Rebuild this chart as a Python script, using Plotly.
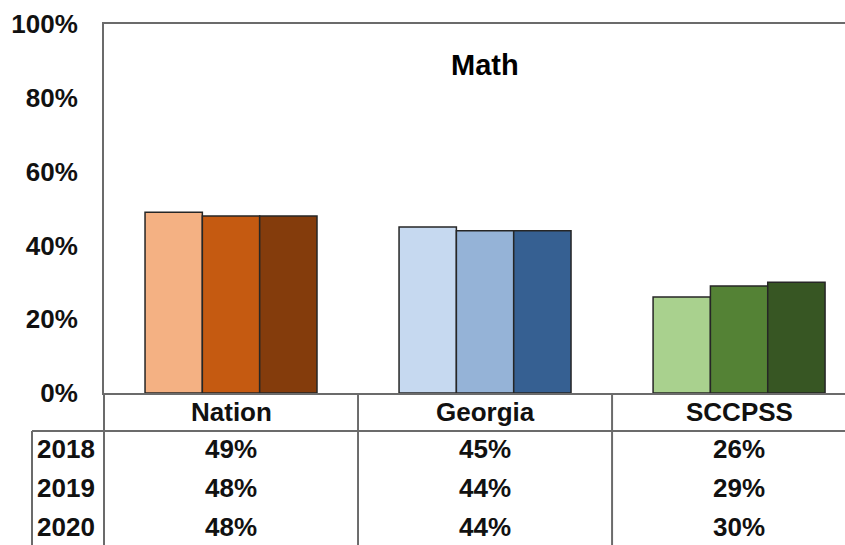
import plotly.graph_objects as go

categories = ["Nation", "Georgia", "SCCPSS"]
years = ["2018", "2019", "2020"]
values_2018 = [49, 45, 26]
values_2019 = [48, 44, 29]
values_2020 = [48, 44, 30]
series = [values_2018, values_2019, values_2020]
colors_2018 = ["#F4B183", "#C6D9F0", "#A9D18E"]
colors_2019 = ["#C55A11", "#95B3D7", "#548235"]
colors_2020 = ["#843C0C", "#366092", "#375623"]
colors = [colors_2018, colors_2019, colors_2020]
y_ticks = [0, 20, 40, 60, 80, 100]
y_tick_labels = ["0%", "20%", "40%", "60%", "80%", "100%"]
title_text = "Math"

FONT = "Liberation Sans, Arial, sans-serif"
W, H = 845, 545
L, R, T, B = 104, 0, 24, 152
plot_w = W - L - R
plot_h = H - T - B

def py(pix):
    return (H - B - pix) / plot_h

def px(pix):
    return (pix - L) / plot_w

fig = go.Figure()
for yr, vals, cols in zip(years, series, colors):
    fig.add_trace(go.Bar(
        x=categories, y=vals, name=yr,
        marker=dict(color=cols, line=dict(color="#262626", width=1.5)),
        showlegend=False, hoverinfo="skip",
    ))

fig.update_layout(
    width=W, height=H,
    margin=dict(l=L, r=R, t=T, b=B, pad=0),
    plot_bgcolor="white", paper_bgcolor="white",
    barmode="group", bargap=0.323, bargroupgap=0,
    font=dict(family=FONT, color="#000000"),
)
fig.update_xaxes(
    type="category", range=[-0.5, 2.417], showticklabels=False,
    showline=True, linecolor="#6b6b6b", linewidth=2, mirror=True,
    showgrid=False, ticks="", zeroline=False,
)
fig.update_yaxes(
    range=[0, 100], tickvals=y_ticks, ticktext=y_tick_labels,
    showline=True, linecolor="#6b6b6b", linewidth=2, mirror=False,
    showgrid=False, zeroline=False, ticks="",
    tickfont=dict(family=FONT, size=26, color="#111111", weight="bold"),
    ticklabelstandoff=19,
)

# title
fig.add_annotation(text=title_text, xref="x", yref="paper", x=1, y=py(65),
                   showarrow=False, xanchor="center", yanchor="middle",
                   font=dict(family=FONT, size=29, color="#000000", weight="bold"))

line_style = dict(color="#6b6b6b", width=2)
# left axis extension down through table
fig.add_shape(type="line", xref="paper", yref="paper", x0=0, x1=0, y0=0, y1=py(H + 5), line=line_style)
# header bottom line
fig.add_shape(type="line", xref="paper", yref="paper", x0=px(32), x1=1, y0=py(431), y1=py(431), line=line_style)
# year column left line
fig.add_shape(type="line", xref="paper", yref="paper", x0=px(32), x1=px(32), y0=py(431), y1=py(H + 5), line=line_style)
# category separators
for b in [0.5, 1.5]:
    fig.add_shape(type="line", xref="x", yref="paper", x0=b, x1=b, y0=0, y1=py(H + 5), line=line_style)

tfont = dict(family=FONT, size=26, color="#111111", weight="bold")
# header labels
for c in categories:
    fig.add_annotation(text=c, xref="x", yref="paper", x=c, y=py(412), showarrow=False,
                       xanchor="center", yanchor="middle", font=tfont)
row_y = [449, 488, 527]
for yr, vals, ry in zip(years, series, row_y):
    fig.add_annotation(text=yr, xref="paper", yref="paper", x=px(66), y=py(ry), showarrow=False,
                       xanchor="center", yanchor="middle", font=tfont)
    for c, v in zip(categories, vals):
        fig.add_annotation(text=f"{v}%", xref="x", yref="paper", x=c, y=py(ry), showarrow=False,
                           xanchor="center", yanchor="middle", font=tfont)

fig.write_html("out.html", config={"displayModeBar": False, "staticPlot": True},
               post_script="document.body.style.margin='0';document.body.style.overflow='hidden';")
